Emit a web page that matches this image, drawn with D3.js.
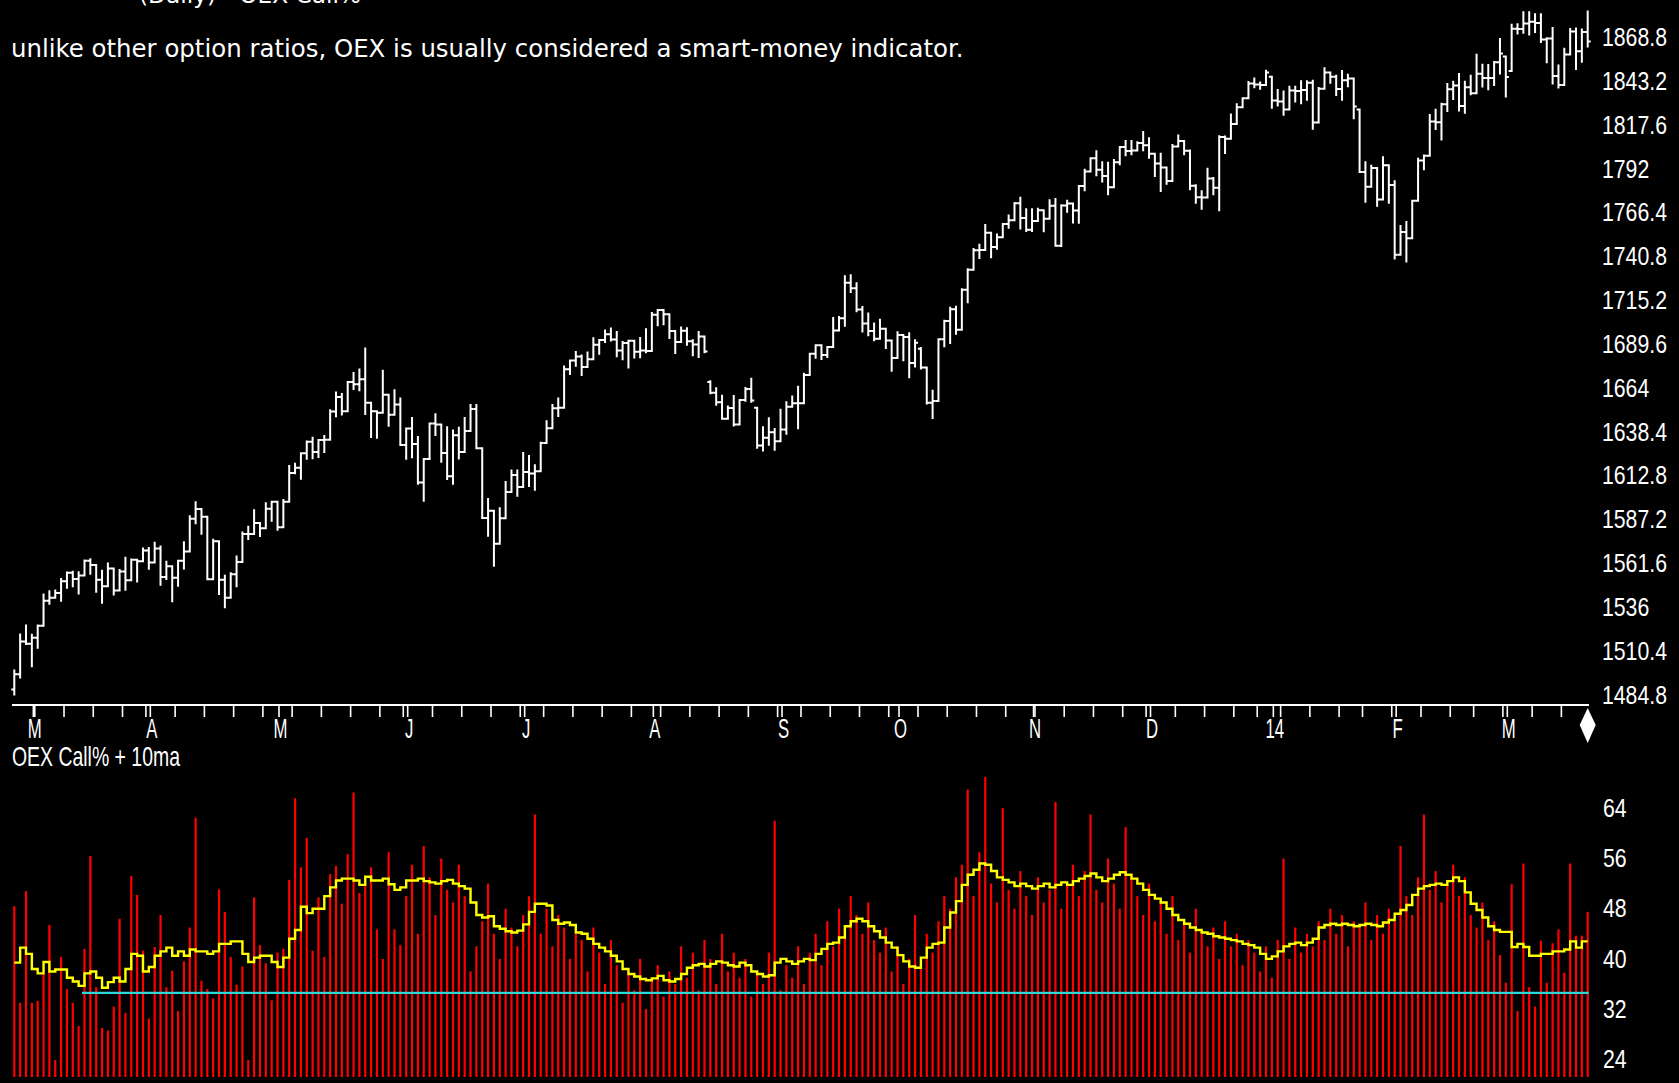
<!DOCTYPE html>
<html>
<head>
<meta charset="utf-8">
<script src="https://cdn.jsdelivr.net/npm/d3@7"></script>
<style>
  html, body { margin: 0; padding: 0; background: #000; overflow: hidden; }
  svg { display: block; }
</style>
</head>
<body>
<svg id="chart" width="1679" height="1083"></svg>
<script>
// ---- session calendar -------------------------------------------------
const firstSession = "2013-02-26";
const lastSession  = "2014-03-21";
const marketHolidays = ["2013-03-29","2013-05-27","2013-07-04","2013-09-02","2013-11-28",
                        "2013-12-25","2014-01-01","2014-01-20","2014-02-17"];

// ---- daily price bars (open / high / low / close) ----------------------
const opens = [1487.9,1496.9,1516.0,1514.7,1518.2,1525.2,1539.8,1541.5,1544.3,1551.2,1556.2,1552.5,1554.5,1563.2,1560.7,1552.1,1548.3,1558.7,1545.8,1556.9,
1551.7,1563.8,1562.9,1569.2,1562.2,1570.3,1553.7,1560.0,1553.3,1563.1,1568.6,1587.7,1593.4,1588.9,1552.4,1574.6,1552.0,1541.6,1555.3,1562.5,
1578.8,1578.8,1585.2,1582.2,1593.6,1597.6,1582.7,1597.6,1614.4,1617.5,1626.0,1632.7,1626.7,1633.7,1633.8,1650.3,1658.8,1650.5,1667.5,1666.3,
1669.2,1655.4,1650.5,1649.6,1660.1,1648.4,1654.4,1630.7,1640.4,1631.4,1608.9,1622.6,1643.4,1642.8,1626.1,1612.5,1636.4,1626.7,1639.0,1651.8,
1628.9,1588.2,1592.4,1573.1,1588.0,1603.3,1613.2,1606.3,1615.0,1614.1,1615.4,1631.9,1640.5,1652.3,1652.6,1675.0,1680.2,1682.5,1676.3,1680.9,
1689.4,1692.1,1695.5,1692.4,1685.9,1690.3,1691.7,1685.3,1686.0,1685.7,1706.9,1709.7,1707.1,1697.4,1690.9,1697.5,1691.4,1689.5,1694.2,1667.5,
1661.3,1655.8,1646.1,1652.4,1642.8,1657.0,1663.5,1652.5,1630.5,1635.0,1638.2,1633.0,1639.8,1653.1,1655.1,1655.2,1671.7,1684.0,1689.1,1683.4,
1688.0,1697.6,1704.8,1725.5,1722.3,1709.9,1701.8,1697.4,1692.8,1698.7,1691.8,1681.6,1695.0,1693.9,1678.7,1687.0,1676.1,1655.5,1656.4,1692.6,
1703.2,1710.1,1698.1,1721.5,1733.2,1744.5,1744.7,1754.7,1746.4,1752.1,1759.8,1762.1,1772.0,1763.3,1756.5,1761.6,1767.9,1763.0,1770.5,1747.2,
1770.6,1771.9,1767.7,1782.0,1790.6,1798.2,1791.5,1787.9,1781.4,1795.9,1804.8,1802.5,1802.8,1807.2,1805.8,1800.9,1795.2,1792.8,1785.0,1805.1,
1808.4,1802.6,1782.2,1775.5,1775.3,1786.5,1781.0,1810.7,1809.6,1818.3,1828.0,1833.3,1842.0,1841.4,1841.1,1845.9,1832.0,1831.4,1826.8,1837.9,
1837.5,1838.1,1842.4,1819.2,1838.9,1848.4,1845.9,1838.7,1843.8,1844.9,1826.7,1790.3,1781.6,1792.5,1774.2,1794.2,1782.6,1741.9,1755.2,1751.6,
1773.4,1797.0,1799.8,1819.8,1819.3,1829.8,1838.6,1840.8,1828.8,1839.8,1836.3,1847.6,1845.1,1845.2,1854.3,1857.7,1849.2,1873.9,1873.8,1877.0,
1878.0,1877.2,1867.6,1868.2,1846.3,1841.1,1858.8,1872.3,1860.8,1872.0];

const highs = [1499.0,1520.1,1525.3,1520.0,1525.3,1543.5,1545.3,1545.8,1552.5,1556.3,1556.8,1556.4,1563.3,1564.0,1560.7,1557.3,1561.6,1558.7,1557.7,1564.9,
1563.9,1563.8,1570.3,1570.6,1573.7,1571.5,1562.6,1560.0,1563.1,1573.9,1589.1,1597.4,1593.4,1588.9,1575.4,1574.6,1554.4,1555.9,1565.6,1579.6,
1583.0,1592.6,1585.2,1596.7,1597.6,1597.6,1598.6,1618.5,1619.8,1626.0,1632.8,1635.0,1633.7,1636.0,1651.1,1661.5,1660.5,1667.5,1672.8,1674.9,
1687.2,1655.4,1650.5,1674.2,1660.1,1662.7,1658.0,1640.4,1646.5,1635.5,1622.6,1643.4,1648.7,1642.8,1641.2,1639.3,1640.8,1646.5,1654.2,1654.2,
1628.9,1599.2,1592.4,1593.8,1609.1,1615.9,1615.9,1626.1,1624.3,1618.9,1632.1,1644.7,1654.2,1657.9,1676.6,1680.2,1685.1,1683.0,1684.8,1693.1,
1692.1,1697.6,1698.8,1696.8,1690.9,1691.7,1691.7,1693.2,1698.4,1707.9,1709.7,1709.7,1707.1,1697.4,1699.4,1699.0,1692.0,1696.8,1694.2,1668.0,
1663.9,1659.6,1653.2,1659.4,1657.0,1664.0,1669.5,1652.5,1641.2,1646.4,1640.1,1651.4,1655.7,1659.1,1664.8,1672.4,1684.1,1689.1,1689.1,1688.0,
1704.9,1705.5,1729.4,1729.9,1725.2,1711.4,1707.6,1701.7,1703.9,1698.7,1691.8,1696.6,1695.0,1696.1,1691.9,1687.4,1676.1,1662.4,1692.6,1703.4,
1711.0,1711.5,1721.8,1733.5,1745.3,1747.8,1759.3,1754.7,1753.7,1759.8,1764.8,1772.1,1775.2,1768.5,1768.5,1768.8,1767.9,1773.7,1774.5,1770.8,
1773.4,1771.9,1782.0,1791.5,1798.2,1802.3,1795.9,1795.7,1797.2,1804.8,1808.4,1808.4,1807.6,1813.6,1810.0,1800.9,1800.9,1792.8,1806.0,1811.5,
1808.4,1802.8,1782.5,1779.0,1792.2,1786.8,1811.1,1810.9,1823.8,1829.8,1833.3,1842.8,1844.9,1842.5,1849.4,1845.9,1838.2,1837.2,1840.1,1840.0,
1843.2,1843.2,1843.5,1839.3,1850.8,1848.4,1846.5,1849.3,1847.0,1844.9,1826.7,1795.9,1793.9,1792.5,1798.8,1794.2,1784.8,1758.7,1761.0,1773.4,
1798.0,1799.9,1823.5,1826.6,1830.1,1841.7,1842.9,1847.5,1842.9,1846.5,1858.7,1852.9,1852.7,1854.5,1867.9,1857.7,1876.2,1876.5,1883.6,1883.6,
1882.4,1882.4,1868.4,1874.4,1852.4,1862.3,1873.8,1874.1,1873.5,1884.0];

const lows = [1485.0,1494.9,1514.5,1501.5,1512.3,1525.2,1538.1,1541.5,1539.8,1547.4,1548.2,1544.0,1554.5,1555.5,1545.1,1538.6,1548.3,1543.4,1545.8,1546.2,
1551.7,1551.0,1562.9,1558.5,1562.2,1549.1,1552.5,1539.5,1548.6,1558.7,1568.6,1585.1,1579.0,1552.3,1552.4,1543.7,1536.0,1541.6,1548.2,1562.5,
1575.8,1578.8,1577.6,1582.2,1586.5,1581.3,1582.7,1597.6,1614.2,1611.0,1622.7,1623.1,1623.7,1626.7,1633.8,1647.6,1648.6,1650.5,1663.5,1662.7,
1648.9,1635.5,1635.0,1649.6,1642.0,1648.4,1630.7,1622.7,1623.6,1608.1,1598.2,1622.6,1636.6,1621.0,1610.9,1608.1,1622.9,1626.7,1639.0,1628.9,
1588.2,1577.7,1560.3,1573.1,1588.0,1603.3,1601.1,1606.3,1606.8,1604.6,1615.4,1631.9,1640.5,1647.7,1652.6,1672.3,1677.1,1671.7,1676.3,1680.9,
1684.1,1690.9,1691.8,1682.6,1680.9,1676.0,1681.9,1682.0,1684.9,1685.7,1700.7,1701.3,1693.3,1684.5,1690.9,1689.4,1683.2,1682.2,1684.9,1661.0,
1654.3,1646.1,1646.1,1642.2,1642.8,1656.6,1656.0,1629.1,1627.5,1630.9,1628.0,1633.0,1637.4,1653.1,1640.6,1655.2,1671.7,1681.8,1681.0,1682.2,
1688.0,1697.6,1700.4,1720.2,1708.9,1697.1,1694.9,1691.9,1692.8,1687.5,1674.2,1681.6,1680.3,1670.4,1676.6,1675.4,1655.0,1646.5,1656.4,1688.5,
1690.4,1695.8,1698.1,1714.1,1733.2,1740.0,1744.7,1740.5,1745.4,1752.1,1757.7,1762.1,1757.2,1755.7,1755.7,1761.6,1755.6,1763.0,1747.1,1747.0,
1767.0,1760.8,1760.6,1779.6,1790.6,1788.4,1784.7,1777.2,1781.4,1794.7,1800.0,1800.6,1802.8,1803.0,1798.6,1787.9,1779.1,1783.4,1785.0,1805.1,
1800.6,1780.1,1772.3,1768.8,1775.3,1777.2,1767.9,1801.3,1809.6,1818.3,1828.0,1833.3,1839.8,1838.8,1841.1,1827.7,1829.1,1823.7,1826.8,1831.4,
1830.4,1832.4,1815.5,1819.2,1838.9,1842.4,1835.2,1832.4,1840.3,1821.7,1790.3,1772.9,1781.6,1770.5,1774.2,1772.3,1739.7,1741.9,1737.9,1751.6,
1773.4,1791.8,1799.8,1815.3,1809.2,1825.9,1832.9,1826.2,1824.9,1835.6,1836.3,1840.2,1838.6,1841.1,1847.7,1834.4,1849.2,1871.1,1871.6,1870.6,
1872.0,1866.1,1854.4,1841.9,1839.6,1841.1,1858.8,1850.4,1854.6,1863.5];

const closes = [1496.9,1516.0,1514.7,1518.2,1525.2,1539.8,1541.5,1544.3,1551.2,1556.2,1552.5,1554.5,1563.2,1560.7,1552.1,1548.3,1558.7,1545.8,1556.9,1551.7,
1563.8,1562.9,1569.2,1562.2,1570.3,1553.7,1560.0,1553.3,1563.1,1568.6,1587.7,1593.4,1588.9,1552.4,1574.6,1552.0,1541.6,1555.3,1562.5,1578.8,
1578.8,1585.2,1582.2,1593.6,1597.6,1582.7,1597.6,1614.4,1617.5,1626.0,1632.7,1626.7,1633.7,1633.8,1650.3,1658.8,1650.5,1667.5,1666.3,1669.2,
1655.4,1650.5,1649.6,1660.1,1648.4,1654.4,1630.7,1640.4,1631.4,1608.9,1622.6,1643.4,1642.8,1626.1,1612.5,1636.4,1626.7,1639.0,1651.8,1628.9,
1588.2,1592.4,1573.1,1588.0,1603.3,1613.2,1606.3,1615.0,1614.1,1615.4,1631.9,1640.5,1652.3,1652.6,1675.0,1680.2,1682.5,1676.3,1680.9,1689.4,
1692.1,1695.5,1692.4,1685.9,1690.3,1691.7,1685.3,1686.0,1685.7,1706.9,1709.7,1707.1,1697.4,1690.9,1697.5,1691.4,1689.5,1694.2,1685.4,1661.3,
1655.8,1646.1,1652.4,1642.8,1657.0,1663.5,1656.8,1630.5,1635.0,1638.2,1633.0,1639.8,1653.1,1655.1,1655.2,1671.7,1684.0,1689.1,1683.4,1688.0,
1697.6,1704.8,1725.5,1722.3,1709.9,1701.8,1697.4,1692.8,1698.7,1691.8,1681.6,1695.0,1693.9,1678.7,1690.5,1676.1,1655.5,1656.4,1692.6,1703.2,
1710.1,1698.1,1721.5,1733.2,1744.5,1744.7,1754.7,1746.4,1752.1,1759.8,1762.1,1772.0,1763.3,1756.5,1761.6,1767.9,1763.0,1770.5,1747.2,1770.6,
1771.9,1767.7,1782.0,1790.6,1798.2,1791.5,1787.9,1781.4,1795.9,1804.8,1802.5,1802.8,1807.2,1805.8,1800.9,1795.2,1792.8,1785.0,1805.1,1808.4,
1802.6,1782.2,1775.5,1775.3,1786.5,1781.0,1810.7,1809.6,1818.3,1828.0,1833.3,1842.0,1841.4,1841.1,1848.4,1832.0,1831.4,1826.8,1837.9,1837.5,
1838.1,1842.4,1819.2,1838.9,1848.4,1845.9,1838.7,1843.8,1844.9,1828.5,1790.3,1781.6,1792.5,1774.2,1794.2,1782.6,1741.9,1755.2,1751.6,1773.4,
1797.0,1799.8,1819.8,1819.3,1829.8,1838.6,1840.8,1828.8,1839.8,1836.3,1847.6,1845.1,1845.2,1854.3,1859.5,1845.7,1873.9,1873.8,1877.0,1878.0,
1877.2,1867.6,1868.2,1846.3,1841.1,1858.8,1872.3,1860.8,1872.0,1866.5];

// ---- OEX call percentage and its 10-day average -------------------------
const callPct = [48.4,33.0,50.8,33.0,33.3,37.6,45.4,23.9,40.3,35.2,33.0,29.3,41.6,56.4,35.5,29.0,28.6,32.4,46.4,31.4,
53.2,50.2,41.3,30.5,41.9,47.0,35.5,38.1,31.7,39.6,45.0,62.5,36.5,35.2,33.7,51.1,47.5,40.3,35.9,38.8,
23.9,49.8,42.2,39.3,33.4,41.0,41.6,52.6,65.6,54.6,59.3,41.3,49.8,40.3,53.5,54.8,48.8,56.7,66.5,50.5,
51.7,54.6,44.7,40.0,57.0,44.7,42.2,
50,55,44,58,53,47,56,51,49,55, 50,38,42,46,52,44,40,48,45,42, 47,50,63,44,48,42,47,45,40,44,
43,38,45,41,36,43,39,33,38,35, 40,32,37,39,34,38,36,42,37,41, 35,43,40,36,44,38,41,37,40,34,
38,36,41,62,35,39,37,42,36,41, 44,39,46,42,48,45,50,47,44,49, 43,41,45,38,42,36,40,47,39,44,
41,46,50,48,53,55,67,50,57,69, 52,49,64,51,48,54,50,47,53,49, 51,65,48,52,55,50,54,63,51,49,
56,52,48,61,53,50,47,52,46,49, 44,50,43,46,41,48,44,42,45,40, 46,42,44,39,43,41,38,42,37,43,
56,40,45,41,44,42,46,43,48,44, 47,42,46,45,49,43,47,44,48,46, 58,50,47,53,63,51,54,49,52,55,
50,53,47,45,49,43,46,
40.6,36.2,51.9,31.7,55.2,35.5,32.4,42.9,36.2,42.5,44.7,37.8,55.2,43.7,43.7,47.5];

const callMA10 = [39.4,41.8,40.8,38.4,37.7,39.5,38.0,38.3,38.3,37.0,36.4,35.7,37.7,38.0,37.0,35.4,36.3,37.0,36.4,38.4,
40.8,40.5,38.0,38.7,40.5,41.2,41.8,40.5,41.2,40.5,41.5,41.2,41.2,40.8,41.2,42.4,42.4,42.8,42.8,40.8,
39.5,40.2,40.5,40.5,39.5,38.7,40.2,43.2,44.6,48.3,47.3,48.0,48.0,50.0,51.4,52.5,52.8,52.8,52.5,51.8,
53.1,52.5,52.5,52.8,51.9,51.0,51.4,
52.5,52.5,52.8,52.4,52.2,52.0,52.4,52.6,52.0,51.6,51.2,
49.0,47.0,46.6,46.8, 45.2,44.8,44.4,44.2,44.5,45.5, 47.5,48.8,48.8,48.5, 46.2,45.6,45.8,45.4,
44.2,44.0,43.2,42.4,41.8,41.2,40.5,39.6, 38.4,37.6,37.2,36.8,36.6,36.9,37.3,36.6,36.4,36.8,37.6,
38.6,39.0,39.2,38.8,39.2,39.6,39.4,39.0,38.8,39.4,39.0, 38.0,37.6,37.2,37.4,
39.4,40.0,39.6,39.2,39.6,40.0,39.8, 40.8,41.6,42.4,42.6,43.4, 45.2,46.0,46.4,46.0,45.2,44.4,
43.4,42.6,41.8,40.6,39.6,38.8,38.6, 40.2,41.8,42.4,42.6, 45.0,47.4,49.2,
51.8,53.4,54.2,55.2,55.0,54.0, 53.0,52.6,52.2,51.6,52.0,51.6,51.2,51.6,52.0,51.4,51.8,52.2,51.8,
52.4,52.8,53.2,53.6,53.0,52.4,52.8,53.4,53.8,53.4,52.8,52.0, 51.0,50.2,49.6,49.0,48.0,47.0,
46.2,45.6,45.0,44.6,44.2,44.0,43.6, 43.4,43.2,43.0,42.8,42.4,42.2,41.8, 40.8,40.0,40.4,41.2,
42.0,42.4,42.6,42.2,42.6,43.2, 45.0,45.4,45.6,45.4,45.6,45.4,45.2,45.4,45.6,45.4,45.2,45.8,46.2,
47.2,47.8,48.6, 50.2,51.2,51.6,51.8,52.0,51.8,52.4,53.0,52.4, 50.6,48.8,47.8,46.6,45.2,44.6,
44.3,44.3,41.9,42.4,41.9,40.5,40.5,40.8,40.8,41.2,41.2,41.5,42.8,41.8,42.8,42.8];

// long-run reference level for the call percentage, and the session it starts at
const callReference = 34.6;
const callReferenceFrom = 12;

// ---- axis labels ---------------------------------------------------------
const priceTicks = [1484.8,1510.4,1536,1561.6,1587.2,1612.8,1638.4,1664,1689.6,1715.2,1740.8,1766.4,1792,1817.6,1843.2,1868.8];
const callTicks = [24,32,40,48,56,64];
const monthLetters = ["J","F","M","A","M","J","J","A","S","O","N","D"];

const subtitle = "unlike other option ratios, OEX is usually considered a smart-money indicator.";
const heading = "(Daily) - OEX Call%";
const lowerTitle = "OEX Call% + 10ma";

// ---- build the session list ---------------------------------------------
const parse = d3.utcParse("%Y-%m-%d");
const fmt = d3.utcFormat("%Y-%m-%d");
const holidaySet = new Set(marketHolidays);
const sessions = d3.utcDays(parse(firstSession), d3.utcDay.offset(parse(lastSession), 1))
  .filter(d => d.getUTCDay() !== 0 && d.getUTCDay() !== 6 && !holidaySet.has(fmt(d)));

const n = closes.length;
const bars = d3.range(n).map(i => ({
  i, date: sessions[i], o: opens[i], h: highs[i], l: lows[i], c: closes[i],
  pct: callPct[i], ma: callMA10[i]
}));

// ---- scales ----------------------------------------------------------------
const x = d3.scaleLinear().domain([0, n - 1]).range([14.3, 1587.7]);
const yPrice = d3.scaleLinear().domain([1484.8, 1868.8]).range([694.9, 37.5]);
const yCall = d3.scaleLinear().domain([24, 64]).range([1059.3, 808.3]);
const callFloor = yCall.invert(1077);

const svg = d3.select("#chart");
svg.append("rect").attr("width", 1679).attr("height", 1083).attr("fill", "#000");

// condensed bitmap-like label text
function label(g, tx, ty, str, size, sx, anchor) {
  return g.append("text")
    .attr("transform", `translate(${tx},${ty}) scale(${sx},1)`)
    .attr("font-family", "'Liberation Sans', Arial, sans-serif")
    .attr("font-size", size)
    .attr("fill", "#fff")
    .attr("text-anchor", anchor || "start")
    .attr("dominant-baseline", "central")
    .text(str);
}

// ---- heading lines (the first one runs off the top edge) -------------------------
const head = svg.append("text")
  .attr("x", 139).attr("y", 3)
  .attr("font-family", "'DejaVu Sans', Verdana, sans-serif")
  .attr("font-size", 20).attr("fill", "#fff")
  .text(heading);
head.attr("font-size", 20 * 222 / head.node().getComputedTextLength());

const sub = svg.append("text")
  .attr("x", 11).attr("y", 57)
  .attr("font-family", "'DejaVu Sans', Verdana, sans-serif")
  .attr("font-size", 20).attr("fill", "#fff")
  .text(subtitle);
sub.attr("font-size", 20 * 953 / sub.node().getComputedTextLength());

// ---- price bars ----------------------------------------------------------------
const priceG = svg.append("g").attr("stroke", "#fff").attr("stroke-width", 2).attr("fill", "none");
priceG.selectAll("path").data(bars).join("path")
  .attr("d", d => {
    const cx = x(d.i);
    return `M${cx},${yPrice(d.h) - 1}V${yPrice(d.l) + 1}` +
           `M${cx - 3},${yPrice(d.o)}H${cx}` +
           `M${cx},${yPrice(d.c)}H${cx + 3}`;
  });

// price axis labels
const pAxis = svg.append("g");
priceTicks.forEach(v => label(pAxis, 1602, yPrice(v), String(+v.toFixed(1)), 25, 0.85));

// ---- time axis -------------------------------------------------------------------
const axisY = 705;
const tAxis = svg.append("g").attr("stroke", "#fff");
tAxis.append("line").attr("x1", 12).attr("x2", 1589).attr("y1", axisY).attr("y2", axisY).attr("stroke-width", 2);

// weekly separators between the last session of a week and the first of the next
for (let i = 1; i < n; i++) {
  if (d3.utcMonday.count(bars[i - 1].date, bars[i].date) > 0) {
    const tx = (x(i - 1) + x(i)) / 2;
    tAxis.append("line").attr("x1", tx).attr("x2", tx).attr("y1", axisY).attr("y2", axisY + 12).attr("stroke-width", 1.6);
  }
}
const monthStarts = [];
for (let i = 0; i < n; i++) {
  if (i === 0 ? bars[i].date.getUTCDate() === 1 : bars[i].date.getUTCMonth() !== bars[i - 1].date.getUTCMonth()) {
    monthStarts.push(i);
  }
}
const labG = svg.append("g");
monthStarts.forEach(i => {
  const tx = x(i) + 1.5;
  tAxis.append("line").attr("x1", tx).attr("x2", tx).attr("y1", axisY).attr("y2", axisY + 12).attr("stroke-width", 1.6);
  const m = bars[i].date.getUTCMonth();
  const txt = m === 0 ? String(bars[i].date.getUTCFullYear()).slice(2) : monthLetters[m];
  label(labG, x(i) + 3, 729, txt, 27, 0.62, "middle");
});
// end-of-data marker
svg.append("path")
  .attr("d", d3.line()([[x(n - 1), 708], [x(n - 1) + 8, 725], [x(n - 1), 743], [x(n - 1) - 8, 725]]) + "Z")
  .attr("fill", "#fff");

// ---- lower panel -------------------------------------------------------------------
label(svg, 12, 757, lowerTitle, 27, 0.72);

svg.append("g").selectAll("line").data(bars).join("line")
  .attr("x1", d => x(d.i)).attr("x2", d => x(d.i))
  .attr("y1", yCall(callFloor)).attr("y2", d => yCall(d.pct))
  .attr("stroke", "#ff0000").attr("stroke-width", 2.2);

svg.append("line")
  .attr("x1", x(callReferenceFrom) - 2.5).attr("x2", x(n - 1) + 1)
  .attr("y1", yCall(callReference)).attr("y2", yCall(callReference))
  .attr("stroke", "#2fd8d8").attr("stroke-width", 2.2);

svg.append("path")
  .datum(bars)
  .attr("d", d3.line().x(d => x(d.i)).y(d => yCall(d.ma)).curve(d3.curveStepAfter))
  .attr("fill", "none").attr("stroke", "#ffff00").attr("stroke-width", 2.4);

const cAxis = svg.append("g");
callTicks.forEach(v => label(cAxis, 1603, yCall(v), String(v), 25, 0.85));
</script>
</body>
</html>
